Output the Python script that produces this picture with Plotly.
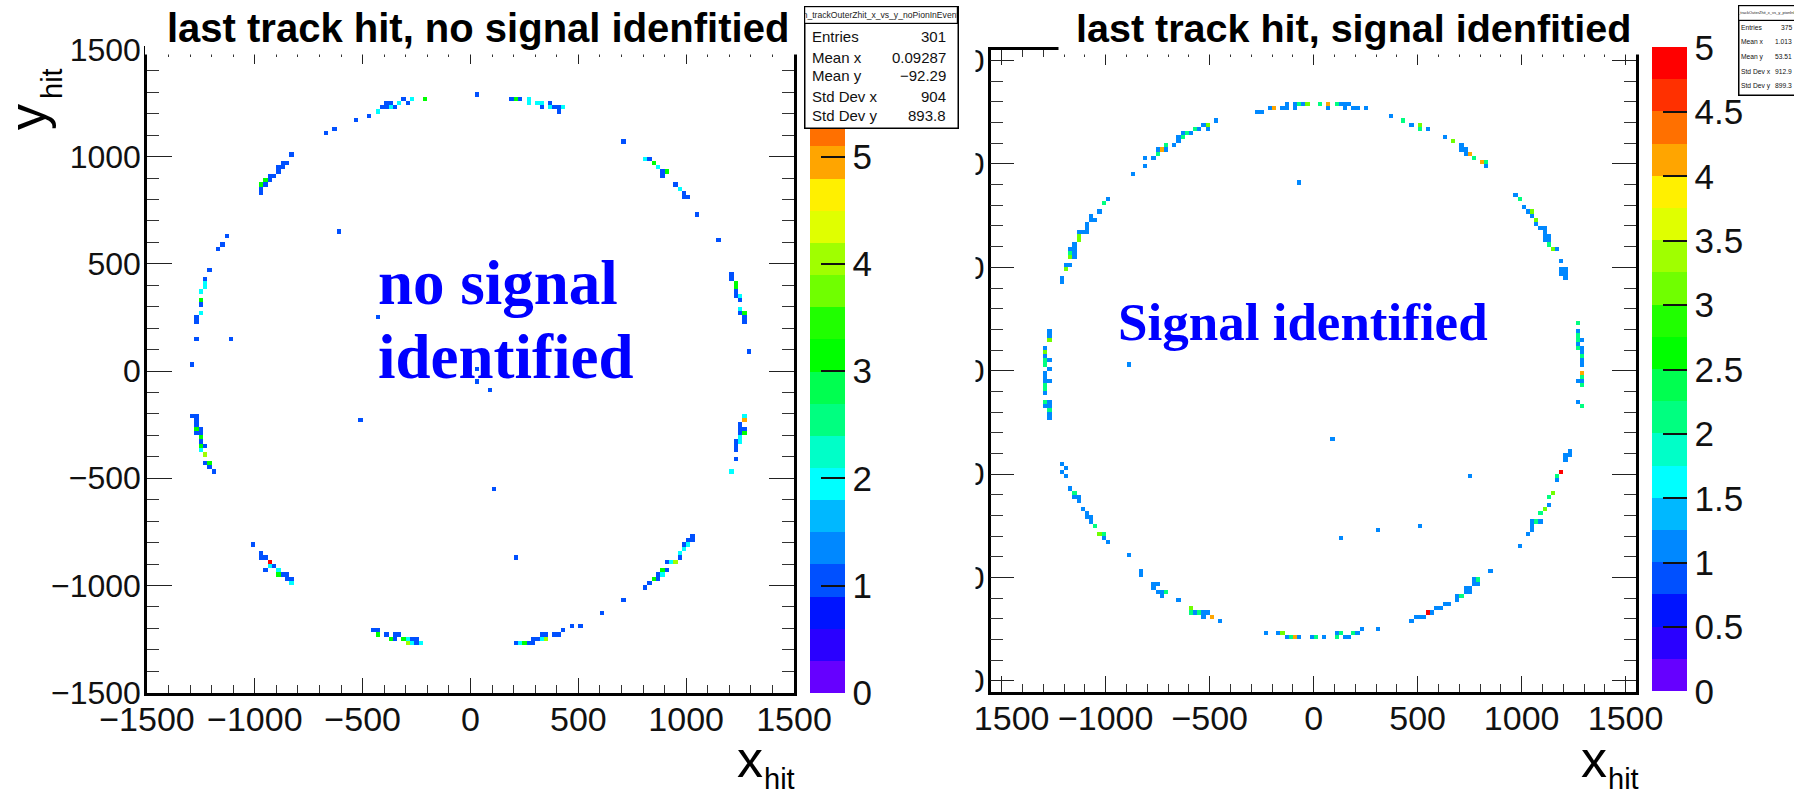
import numpy as np
import plotly.graph_objects as go

W, H = 1794, 792

# (x_hit, y_hit, entries), 20-unit bins
left_top_arc = [(30,1290,1),(-210,1270,3),(-270,1270,2),(-310,1270,1),(-290,1250,1),(-330,1250,2),(-370,1250,1),(-390,1250,1),
 (-350,1230,1),(-370,1230,2),(-390,1230,1),(-410,1230,1),(-430,1210,2),(-470,1190,1),(-530,1170,1),(-630,1130,1),(-670,1110,1),
 (190,1270,1),(210,1270,3),(230,1270,1),(270,1270,2),(270,1250,2),(310,1250,2),(330,1250,2),(330,1230,1),(370,1250,1),(370,1230,2),
 (390,1230,1),(410,1230,1),(430,1230,2),(410,1210,1)]
left_upper_left = [(-830,1010,1),(-850,970,1),(-870,970,1),(-870,950,1),(-890,950,1),(-890,930,1),(-910,910,1),(-930,910,1),
 (-930,890,1),(-950,890,3),(-950,870,1),(-970,870,3),(-970,850,1),(-970,830,1),(-1130,630,1),(-1150,590,1),(-1170,570,1),
 (-1210,470,1),(-1230,430,1),(-1230,410,2),(-1230,390,2),(-1250,370,2),(-1250,330,3),(-1250,310,1),(-1250,270,2),(-1270,250,1),
 (-1270,230,1),(-1270,150,1),(-1290,30,1)]
left_upper_right = [(710,1070,1),(810,990,2),(830,990,1),(850,970,3),(870,950,2),(890,930,1),(910,930,3),(890,910,1),(950,870,1),
 (970,850,2),(990,830,1),(990,810,1),(1010,810,1),(1050,730,1),(1150,610,1),(1210,450,1),(1210,430,1),(1230,410,3),(1230,390,3),
 (1230,370,1),(1230,350,1),(1250,350,2),(1250,330,1),(1250,290,2),(1250,270,1),(1270,270,3),(1270,250,1),(1270,230,1),(1290,90,1)]
left_lower_left = [(-1290,-210,1),(-1270,-210,1),(-1270,-230,1),(-1270,-250,1),(-1250,-270,1),(-1270,-270,3),(-1270,-290,1),(-1250,-290,1),
 (-1250,-310,3),(-1250,-330,1),(-1250,-350,3),(-1230,-350,1),(-1250,-370,2),(-1230,-390,4),(-1230,-430,1),(-1210,-430,3),(-1210,-450,1),
 (-1190,-470,1),(-1010,-810,1),(-970,-850,1),(-970,-870,1),(-950,-870,1),(-930,-890,6),(-910,-910,1),(-930,-910,2),(-950,-930,1),
 (-890,-930,2),(-890,-950,3),(-870,-950,1),(-850,-950,1),(-850,-970,1),(-830,-970,1),(-830,-990,2)]
left_bottom_arc = [(-450,-1210,1),(-430,-1210,1),(-430,-1230,3),(-390,-1230,1),(-350,-1230,1),(-330,-1230,1),(-370,-1250,3),(-350,-1250,1),
 (-310,-1250,3),(-290,-1250,2),(-270,-1250,1),(-250,-1250,1),(-290,-1270,4),(-270,-1270,2),(-250,-1270,1),(-230,-1270,2),
 (210,-1270,1),(230,-1270,2),(250,-1270,3),(270,-1270,1),(290,-1270,1),(290,-1250,1),(310,-1250,1),(330,-1250,2),(350,-1250,4),
 (330,-1230,1),(350,-1230,1),(390,-1230,1),(410,-1230,1),(430,-1210,1),(470,-1190,1),(510,-1190,1),(610,-1130,1),(710,-1070,1)]
left_lower_right = [(810,-1010,1),(830,-990,1),(850,-970,3),(870,-970,1),(870,-950,1),(890,-950,2),(890,-930,3),(910,-930,1),(910,-890,1),
 (930,-890,2),(950,-890,4),(970,-870,1),(970,-850,2),(990,-830,2),(1010,-810,2),(990,-810,1),(1010,-790,1),(1030,-790,1),(1030,-770,1),
 (1270,-210,2),(1270,-230,5),(1250,-250,1),(1250,-270,1),(1270,-270,1),(1250,-290,1),(1270,-290,3),(1250,-310,2),(1250,-330,2),
 (1230,-330,1),(1230,-350,1),(1230,-370,1),(1230,-410,1),(1210,-470,2)]
left_inner = [(-610,650,1),(-430,250,1),(-1110,150,1),(30,10,1),(30,-50,1),(90,-90,1),(-510,-230,1),(110,-550,1),(210,-870,1)]

right_top_arc = [(-270,1250,1),(-250,1250,1),(-210,1270,1),(-190,1270,4),(-150,1270,1),(-130,1270,1),(-130,1290,1),(-90,1290,1),(-90,1270,1),
 (-70,1290,2),(-50,1290,1),(-30,1290,3),(30,1290,2),(70,1290,4),(70,1270,1),(110,1290,2),(130,1290,1),(150,1290,1),(170,1290,1),
 (150,1270,1),(190,1270,1),(210,1270,1),(250,1270,1),(370,1230,1),(430,1210,2),(470,1190,1),(510,1190,3),(510,1170,2),(550,1170,1),
 (630,1130,1),(670,1110,3),(710,1090,1),(710,1070,1),(730,1070,1),(730,1050,1),(750,1050,4),(770,1030,2),(810,1010,4),(830,1010,2),(830,990,1)]
right_upper_left = [(-470,1210,1),(-510,1190,3),(-530,1190,1),(-510,1170,1),(-550,1170,1),(-570,1170,2),(-590,1150,1),(-610,1150,2),(-630,1150,1),
 (-630,1130,2),(-650,1130,1),(-650,1110,1),(-670,1090,1),(-710,1090,2),(-710,1070,1),(-730,1070,4),(-750,1070,1),(-750,1050,2),(-770,1030,1),
 (-810,1030,1),(-810,990,1),(-870,950,1),(-990,830,1),(-1010,810,2),(-1030,770,1),(-1070,750,1),(-1070,730,1),(-1050,730,1),(-1090,710,1),
 (-1090,690,1),(-1130,670,1),(-1110,670,1),(-1090,670,1),(-1130,650,3),(-1130,630,3),(-1150,610,1),(-1170,590,1),(-1150,590,1),(-1170,570,2),
 (-1150,570,1),(-1170,550,3),(-1150,550,1),(-1190,510,1),(-1170,510,1),(-1190,490,3),(-1210,450,1),(-1210,430,1)]
right_left_arc = [(-1270,190,1),(-1270,170,1),(-1270,150,3),(-1290,110,1),(-1290,90,3),(-1290,70,1),(-1290,50,2),(-1270,50,1),(-1290,30,2),
 (-1270,10,1),(-1290,-10,1),(-1290,-30,1),(-1290,-50,1),(-1270,-50,1),(-1290,-70,2),(-1290,-90,2),(-1290,-110,1),(-1290,-150,2),(-1270,-150,1),
 (-1290,-170,1),(-1270,-170,1),(-1270,-190,2),(-1270,-210,1),(-1270,-230,1)]
right_lower_left = [(-1210,-450,1),(-1190,-470,1),(-1210,-490,1),(-1190,-510,1),(-1170,-570,1),(-1150,-590,2),(-1150,-610,1),(-1130,-610,1),
 (-1130,-630,1),(-1110,-670,1),(-1090,-690,1),(-1090,-710,1),(-1070,-710,1),(-1070,-730,1),(-1050,-750,2),(-1030,-790,3),(-1010,-790,2),
 (-1010,-810,1),(-990,-830,1),(-890,-890,1),(-830,-970,1),(-830,-990,1),(-770,-1030,1),(-750,-1030,1),(-770,-1050,1),(-750,-1070,1),
 (-730,-1070,1),(-710,-1070,2),(-730,-1090,1),(-650,-1110,1),(-590,-1150,3),(-590,-1170,2),(-570,-1170,1),(-550,-1170,2),(-530,-1170,1),
 (-510,-1170,1),(-530,-1190,1),(-490,-1190,4),(-450,-1210,1)]
right_bottom_arc = [(-230,-1270,1),(-170,-1270,1),(-150,-1270,3),(-130,-1290,1),(-110,-1290,2),(-90,-1290,4),(-70,-1290,1),(-10,-1290,1),(10,-1290,2),
 (50,-1290,1),(110,-1270,1),(130,-1270,2),(110,-1290,2),(150,-1290,1),(170,-1290,1),(190,-1270,2),(210,-1270,1),(230,-1250,1),(310,-1250,1)]
right_lower_right = [(470,-1210,1),(490,-1190,1),(510,-1190,1),(530,-1190,1),(550,-1170,5),(570,-1170,1),(590,-1150,1),(610,-1150,1),(630,-1130,1),
 (650,-1130,1),(690,-1090,1),(710,-1090,2),(690,-1110,1),(730,-1050,1),(750,-1050,1),(730,-1070,1),(750,-1070,1),(770,-1010,1),(790,-1010,2),
 (770,-1030,1),(790,-1030,1),(850,-970,1),(990,-850,1),(1030,-790,1),(1050,-770,1),(1050,-750,1),(1050,-730,1),(1070,-730,2),(1090,-730,1),
 (1090,-690,2),(1110,-670,3),(1130,-650,1),(1130,-610,2),(1150,-590,3),(1170,-530,1),(1170,-510,2),(1190,-490,5),(1210,-430,1),(1210,-410,1),
 (1230,-410,1),(1230,-390,1),(1270,-150,1),(1290,-170,2),(1270,-50,1),(1290,-50,1),(1290,-70,2),(1290,-30,2),(1290,-10,4)]
right_right_arc = [(1290,30,1),(1290,50,1),(1290,70,2),(1290,90,1),(1290,110,1),(1290,150,1),(1270,110,2),(1270,130,1),(1270,150,2),(1270,170,2),
 (1270,190,1),(1270,230,2),(1190,490,1),(1210,490,1),(1190,470,1),(1210,470,1),(1210,450,1),(1190,530,1),(1170,590,1),(1150,590,3),(1130,610,2),
 (1110,630,1),(1130,630,1),(1110,650,1),(1130,650,1),(1090,690,1),(1110,690,1),(1110,670,1),(1070,710,1),(1070,730,3),(1050,750,1),(1050,770,3),
 (1030,770,1),(1010,790,1),(990,830,2),(970,850,1)]
right_inner = [(-70,910,1),(-890,30,1),(90,-330,1),(750,-510,1),(510,-750,1),(310,-770,1),(130,-810,1)]

left_hits = (left_top_arc + left_upper_left + left_upper_right + left_lower_left
             + left_bottom_arc + left_lower_right + left_inner)
right_hits = (right_top_arc + right_upper_left + right_left_arc + right_lower_left
              + right_bottom_arc + right_lower_right + right_right_arc + right_inner)

palette = ["#6600ff","#2a00ff","#0014ff","#0050ff","#0088ff","#00b8ff","#00ffff","#00ffc8","#00ff80","#00ff50",
           "#00ff00","#20ff00","#70ff00","#a0ff00","#e0ff00","#fff000","#ffa500","#ff7000","#ff3000","#ff0000"]
colorscale = []
for i, c in enumerate(palette):
    colorscale += [[i / 20, c], [(i + 1) / 20, c]]

left_cb_ticks = [0, 1, 2, 3, 4, 5]
right_cb_ticks = [0, 0.5, 1, 1.5, 2, 2.5, 3, 3.5, 4, 4.5, 5]
axis_ticks = [-1500, -1000, -500, 0, 500, 1000, 1500]

title_left = "last track hit, no signal idenfitied"
title_right = "last track hit, signal idenfitied"
stats_labels = ["Entries", "Mean x", "Mean y", "Std Dev x", "Std Dev y"]
stats_left_name = "h_trackOuterZhit_x_vs_y_noPionInEvent"
stats_left_values = ["301", "0.09287", "\u221292.29", "904", "893.8"]
stats_right_name = "h_trackOuterZhit_x_vs_y_pionInEvent"
stats_right_values = ["375", "1.013", "53.51", "912.9", "899.3"]

FONT = "Liberation Sans"
SERIF = "Liberation Serif"

def grid(hits, half):
    centers = np.arange(-half + 10, half, 20)
    z = [[None] * len(centers) for _ in centers]
    for x, y, n in hits:
        z[int((y + half) // 20)][int((x + half) // 20)] = n
    return centers, z

def px(v): return v / W
def py(v): return 1 - v / H

fig = go.Figure()

lc, lz = grid(left_hits, 1500)
fig.add_trace(go.Heatmap(x=lc, y=lc, z=lz, zmin=0, zmax=6, colorscale=colorscale, hoverongaps=False,
    xaxis="x", yaxis="y",
    colorbar=dict(x=px(810), xanchor="left", xpad=0, ypad=0, y=py(692.7), yanchor="bottom",
                  lenmode="pixels", len=643.3, thicknessmode="pixels", thickness=35,
                  outlinewidth=0, ticks="inside", ticklen=24, tickwidth=1.5, tickcolor="#111",
                  tickvals=left_cb_ticks, ticktext=[str(t) for t in left_cb_ticks],
                  tickfont=dict(family=FONT, size=35, color="#111"))))
rc, rz = grid(right_hits, 1560)
fig.add_trace(go.Heatmap(x=rc, y=rc, z=rz, zmin=0, zmax=5, colorscale=colorscale, hoverongaps=False,
    xaxis="x2", yaxis="y2",
    colorbar=dict(x=px(1652), xanchor="left", xpad=0, ypad=0, y=py(691.5), yanchor="bottom",
                  lenmode="pixels", len=643.5, thicknessmode="pixels", thickness=35,
                  outlinewidth=0, ticks="inside", ticklen=24, tickwidth=1.5, tickcolor="#111",
                  tickvals=right_cb_ticks, ticktext=[f"{t:g}" for t in right_cb_ticks],
                  tickfont=dict(family=FONT, size=35, color="#111"))))

def axis(dom, rng, size, ticklen, minorlen, anchor, standoff):
    return dict(domain=dom, range=rng, anchor=anchor, tickmode="array", tickvals=axis_ticks,
                ticks="inside", ticklen=ticklen, tickwidth=1.4, tickcolor="#222",
                minor=dict(dtick=100, tick0=0, ticks="inside", ticklen=minorlen, tickwidth=1.3, tickcolor="#333"),
                showline=True, linecolor="black", linewidth=2.5, mirror="ticks", showgrid=False, zeroline=False,
                tickfont=dict(family=FONT, size=size, color="#111"), ticklabelstandoff=standoff, layer="above traces")

fig.update_layout(
    width=W, height=H, margin=dict(l=0, r=0, t=0, b=0, pad=0, autoexpand=False),
    paper_bgcolor="white", plot_bgcolor="white", showlegend=False,
    xaxis=axis([147 / W, 794 / W], [-1500, 1500], 34, 14.5, 7.5, "y", -5),
    yaxis=axis([py(692.7), py(49.4)], [-1500, 1500], 32, 25, 12.7, "x", -3),
    xaxis2=axis([990.7 / W, 1636 / W], [-1553, 1550], 34, 15.5, 7.5, "y2", -5),
    yaxis2=axis([py(691.7), py(50)], [-1552, 1551], 32, 24, 12.7, "x2", -3),
)

white = dict(type="rect", xref="paper", yref="paper", fillcolor="white", line=dict(width=0), layer="above")
fig.add_shape(**white, x0=px(145), x1=px(805), y0=py(0), y1=py(54.5))
fig.add_shape(**white, x0=px(1058.5), x1=px(1640), y0=py(0), y1=py(54.5))
fig.add_shape(**white, x0=px(880), x1=px(975.5), y0=py(0), y1=py(792))

def note(x, y, text, size, color="black", family=FONT, bold=False, xanchor="center", yanchor="middle", angle=0):
    fig.add_annotation(x=px(x), y=py(y), xref="paper", yref="paper", text=f"<b>{text}</b>" if bold else text,
                       showarrow=False, xanchor=xanchor, yanchor=yanchor, textangle=angle,
                       font=dict(family=family, size=size, color=color), borderpad=0)

def stats(x0, x1, y0, yh, y1, name, name_size, rows_y, values, size, tx, vx):
    fig.add_annotation(x=px(x0), y=py(y0), xref="paper", yref="paper", text=" ", showarrow=False, xanchor="left",
                       yanchor="top", width=x1 - x0, height=y1 - y0, bgcolor="white", bordercolor="black",
                       borderwidth=1.5, borderpad=0)
    fig.add_annotation(x=px(x0), y=py(y0), xref="paper", yref="paper", text=name, showarrow=False, xanchor="left",
                       yanchor="top", width=x1 - x0, height=yh - y0, bgcolor="white", bordercolor="black",
                       borderwidth=1.2, borderpad=0, font=dict(family=FONT, size=name_size, color="#222"))
    for lab, val, ry in zip(stats_labels, values, rows_y):
        note(tx, ry, lab, size, "#111", xanchor="left")
        note(vx, ry, val, size, "#111", xanchor="right")

stats(804, 955.7, 5.7, 21.7, 126, stats_left_name, 8.6, [36.7, 58, 76, 96, 115], stats_left_values, 15, 810.7, 947)
stats(1738, 1800, 4.7, 18, 92.7, stats_right_name, 4, [27.7, 41.7, 56.7, 71.7, 86], stats_right_values, 6.7, 1740, 1793)

note(478, 28, title_left, 40, bold=True)
note(1353, 28, title_right, 39.5, bold=True)
note(377, 283, "no signal", 63, "#0000ff", SERIF, True, xanchor="left")
note(377, 357, "identified", 63, "#0000ff", SERIF, True, xanchor="left")
note(1117, 322, "Signal identified", 53, "#0000ff", SERIF, True, xanchor="left")

note(750, 759, "x", 52)
note(779, 779, "hit", 29)
note(1594, 759, "x", 52)
note(1623, 779, "hit", 29)
note(27, 117, "y", 52, angle=-90)
note(52, 84, "hit", 29, angle=-90)

fig.write_html("out.html", config={"displayModeBar": False},
               post_script="document.body.style.margin='0';document.body.style.overflow='hidden';")
